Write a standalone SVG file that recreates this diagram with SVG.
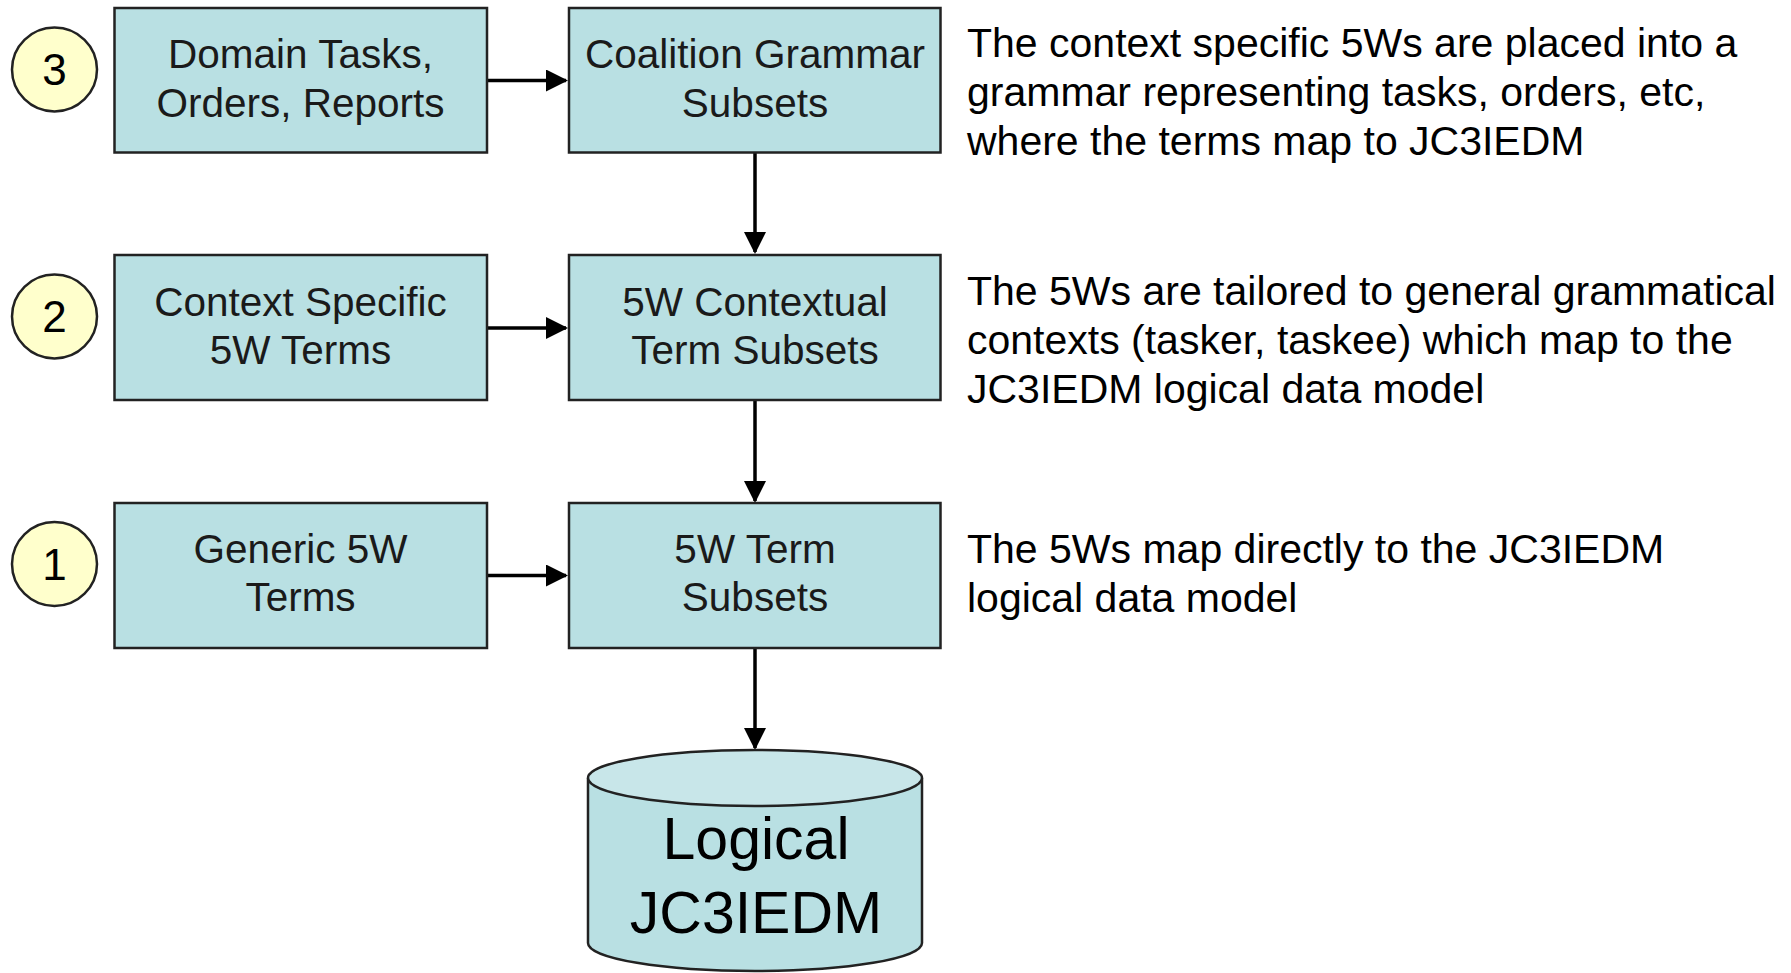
<svg xmlns="http://www.w3.org/2000/svg" width="1791" height="973" viewBox="0 0 1791 973">
<defs>
<style>
.box{fill:#B9E0E3;stroke:#222;stroke-width:2.5}
.num{fill:#FFFFCC;stroke:#222;stroke-width:2.5}
.t{font-family:"Liberation Sans",Arial,sans-serif;font-size:40.5px;fill:#1a1a1a;text-anchor:middle}
.n{font-family:"Liberation Sans",Arial,sans-serif;font-size:44px;fill:#000;text-anchor:middle}
.d{font-family:"Liberation Sans",Arial,sans-serif;font-size:41px;fill:#000}
.big{font-family:"Liberation Sans",Arial,sans-serif;font-size:59px;fill:#000;text-anchor:middle}
.c{stroke:#000;stroke-width:3.5;fill:none;marker-end:url(#ah)}
</style>
<marker id="ah" markerWidth="22" markerHeight="22" refX="20" refY="11" orient="auto" markerUnits="userSpaceOnUse">
<path d="M0,0 L22,11 L0,22 z" fill="#000"/>
</marker>
</defs>
<rect width="1791" height="973" fill="#fff"/>

<g id="connectors">
<line class="c" x1="487" y1="80.5" x2="566" y2="80.5"/>
<line class="c" x1="487" y1="328" x2="566" y2="328"/>
<line class="c" x1="487" y1="575.5" x2="566" y2="575.5"/>
<line class="c" x1="755" y1="152" x2="755" y2="252"/>
<line class="c" x1="755" y1="400" x2="755" y2="501"/>
<line class="c" x1="755" y1="648" x2="755" y2="748"/>
</g>

<g id="step3">
<ellipse class="num" cx="54.5" cy="69.5" rx="42.5" ry="42"/>
<text class="n" x="54.5" y="85">3</text>
</g>
<g id="step2">
<ellipse class="num" cx="54.5" cy="316.5" rx="42.5" ry="42"/>
<text class="n" x="54.5" y="332">2</text>
</g>
<g id="step1">
<ellipse class="num" cx="54.5" cy="564" rx="42.5" ry="42"/>
<text class="n" x="54.5" y="579.5">1</text>
</g>

<g id="domain-tasks">
<rect class="box" x="114.5" y="8" width="372.5" height="144.5"/>
<text class="t" x="300.5" y="68">Domain Tasks,</text>
<text class="t" x="300.5" y="117">Orders, Reports</text>
</g>
<g id="coalition-grammar">
<rect class="box" x="569" y="8" width="371.5" height="144.5"/>
<text class="t" x="755" y="68">Coalition Grammar</text>
<text class="t" x="755" y="117">Subsets</text>
</g>
<g id="context-specific">
<rect class="box" x="114.5" y="255" width="372.5" height="145"/>
<text class="t" x="300.5" y="316">Context Specific</text>
<text class="t" x="300.5" y="364">5W Terms</text>
</g>
<g id="contextual-subsets">
<rect class="box" x="569" y="255" width="371.5" height="145"/>
<text class="t" x="755" y="316">5W Contextual</text>
<text class="t" x="755" y="364">Term Subsets</text>
</g>
<g id="generic-terms">
<rect class="box" x="114.5" y="503" width="372.5" height="145"/>
<text class="t" x="300.5" y="563">Generic 5W</text>
<text class="t" x="300.5" y="611">Terms</text>
</g>
<g id="term-subsets">
<rect class="box" x="569" y="503" width="371.5" height="145"/>
<text class="t" x="755" y="563">5W Term</text>
<text class="t" x="755" y="611">Subsets</text>
</g>

<g id="jc3iedm">
<path d="M588,778 L588,943 A167,28 0 0 0 922,943 L922,778" fill="#B9E0E3" stroke="#222" stroke-width="2.5"/>
<ellipse cx="755" cy="778" rx="167" ry="28" fill="#C8E6E9" stroke="#222" stroke-width="2.5"/>
<text class="big" x="756" y="859">Logical</text>
<text class="big" x="756" y="933">JC3IEDM</text>
</g>

<g id="descriptions">
<text class="d" x="967" y="57">The context specific 5Ws are placed into a</text>
<text class="d" x="967" y="106">grammar representing tasks, orders, etc,</text>
<text class="d" x="967" y="155">where the terms map to JC3IEDM</text>
<text class="d" x="967" y="305">The 5Ws are tailored to general grammatical</text>
<text class="d" x="967" y="354">contexts (tasker, taskee) which map to the</text>
<text class="d" x="967" y="403">JC3IEDM logical data model</text>
<text class="d" x="967" y="563">The 5Ws map directly to the JC3IEDM</text>
<text class="d" x="967" y="612">logical data model</text>
</g>
</svg>
